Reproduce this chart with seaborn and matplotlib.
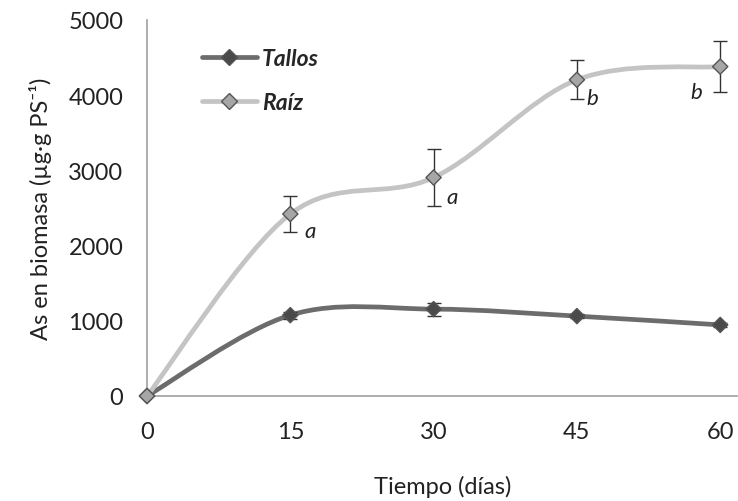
import numpy as np
import pandas as pd
import matplotlib
matplotlib.use("Agg")
import matplotlib.pyplot as plt
from matplotlib.path import Path
from matplotlib.patches import PathPatch
from matplotlib.lines import Line2D
import seaborn as sns

# ---- data ----
dias = [0, 15, 30, 45, 60]
tallos = [0, 1075, 1155, 1062, 945]
tallos_err = [0, 45, 85, 25, 25]
raiz = [0, 2420, 2905, 4205, 4380]
raiz_err = [0, 245, 385, 260, 335]
letras = ["a", "a", "b", "b"]
letras_x = [17.1, 31.9, 46.6, 57.5]
letras_y = [2190, 2650, 3960, 4045]
xticks = [0, 15, 30, 45, 60]
yticks = [0, 1000, 2000, 3000, 4000, 5000]

sns.set_style("white")
plt.rcParams["font.family"] = ["Lato", "DejaVu Sans"]

fig = plt.figure(figsize=(7.38, 5.02), dpi=100)
ax = fig.add_axes([0.1992, 0.2092, 0.8, 0.749])


def smooth_path(x, y):
    x = np.asarray(x, float)
    y = np.asarray(y, float)
    n = len(x)
    verts = [(x[0], y[0])]
    codes = [Path.MOVETO]
    for i in range(n - 1):
        p0 = (x[max(i - 1, 0)], y[max(i - 1, 0)])
        p1 = (x[i], y[i])
        p2 = (x[i + 1], y[i + 1])
        p3 = (x[min(i + 2, n - 1)], y[min(i + 2, n - 1)])
        c1 = (p1[0] + (p2[0] - p0[0]) / 6, p1[1] + (p2[1] - p0[1]) / 6)
        c2 = (p2[0] - (p3[0] - p1[0]) / 6, p2[1] - (p3[1] - p1[1]) / 6)
        verts += [c1, c2, p2]
        codes += [Path.CURVE4] * 3
    return Path(verts, codes)


c_tallos = "#6c6c6c"
c_raiz = "#c4c4c4"
m_tallos = "#4a4a4a"
m_raiz = "#a6a6a6"

ax.add_patch(PathPatch(smooth_path(dias, tallos), fill=False, edgecolor=c_tallos,
                       lw=3.4, zorder=2, capstyle="round"))
ax.add_patch(PathPatch(smooth_path(dias, raiz), fill=False, edgecolor=c_raiz,
                       lw=3.4, zorder=2, capstyle="round"))

ax.errorbar(dias, tallos, yerr=tallos_err, fmt="none", ecolor="#333333",
            elinewidth=1.0, capsize=5, capthick=1.0, zorder=3)
ax.errorbar(dias, raiz, yerr=raiz_err, fmt="none", ecolor="#333333",
            elinewidth=1.0, capsize=5, capthick=1.0, zorder=3)

df = pd.DataFrame({"dias": dias * 2, "valor": tallos + raiz,
                   "serie": ["Tallos"] * 5 + ["Raíz"] * 5})
sns.scatterplot(data=df, x="dias", y="valor", hue="serie",
                palette={"Tallos": m_tallos, "Raíz": m_raiz},
                marker="D", s=60, edgecolor="#555555", linewidth=1.0,
                legend=False, ax=ax, zorder=4, clip_on=False)

for t, xx, yy in zip(letras, letras_x, letras_y):
    ax.text(xx, yy, t, fontsize=16, style="italic", ha="center", va="center",
            color="#222222")

ax.set_xlim(0, 61.8)
ax.set_ylim(0, 5000)
ax.set_xticks(xticks)
ax.set_yticks(yticks)
ax.tick_params(axis="both", labelsize=17, colors="#222222", length=6,
               width=1, direction="out")
ax.tick_params(axis="x", pad=12)
ax.tick_params(axis="y", pad=11)
ax.tick_params(axis="both", color="#a0a0a0")
for side in ["top", "right"]:
    ax.spines[side].set_visible(False)
for side in ["left", "bottom"]:
    ax.spines[side].set_color("#a0a0a0")
    ax.spines[side].set_linewidth(1.2)
    ax.spines[side].set_zorder(1)

ax.set_xlabel("Tiempo (días)", fontsize=17, color="#222222", labelpad=24)
ax.set_ylabel("As en biomasa (µg·g PS⁻¹)", fontsize=17, color="#222222", labelpad=12)

handles = [
    Line2D([0], [0], color=c_tallos, lw=3.4, marker="D", markersize=8,
           markerfacecolor=m_tallos, markeredgecolor="#555555"),
    Line2D([0], [0], color=c_raiz, lw=3.4, marker="D", markersize=8,
           markerfacecolor=m_raiz, markeredgecolor="#555555"),
]
leg = ax.legend(handles, ["Tallos", "Raíz"], loc="upper left",
                bbox_to_anchor=(0.093, 0.925), frameon=False, borderpad=0,
                borderaxespad=0, handlelength=2.4, handletextpad=0.22,
                labelspacing=1.0,
                prop={"size": 16.5, "weight": "bold", "style": "italic"})

fig.savefig("out.png", dpi=100)
